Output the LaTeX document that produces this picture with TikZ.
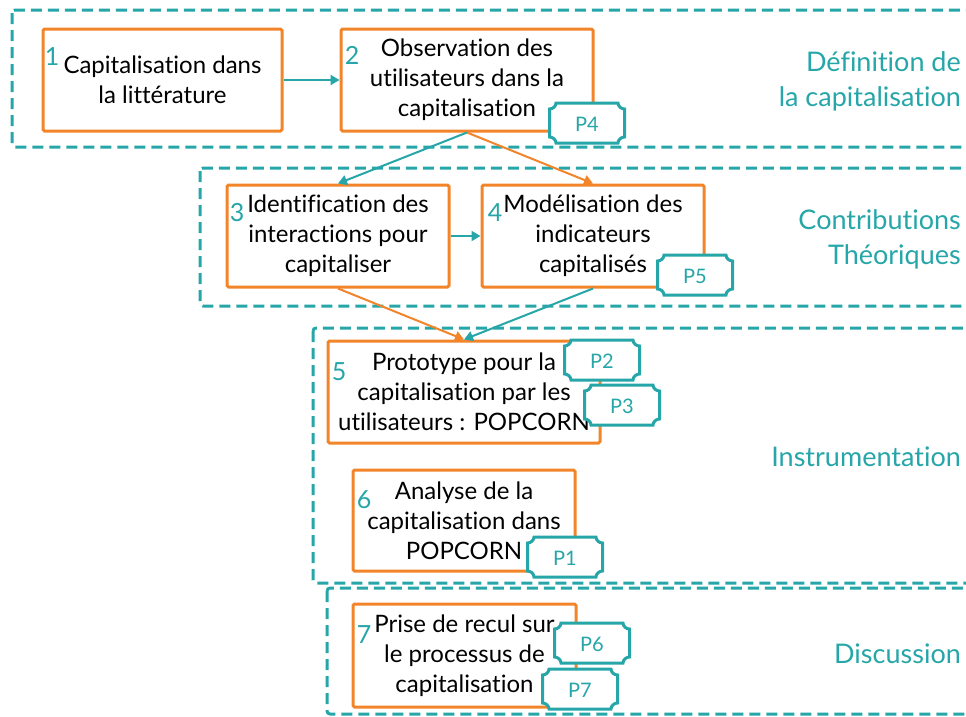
\documentclass[tikz,border=0pt]{standalone}
\usepackage{fontspec}
\setmainfont{Lato}[Ligatures={NoCommon}]
\usetikzlibrary{arrows.meta}
\definecolor{tealc}{RGB}{38,166,168}
\definecolor{orng}{RGB}{242,132,42}
\begin{document}
\begin{tikzpicture}[x=1pt,y=-1pt,
  obox/.style={draw=orng, line width=3pt, rounded corners=1.5pt, fill=white, align=center,
    font=\fontsize{24}{30}\selectfont, inner sep=0pt},
  dbox/.style={draw=tealc, line width=3pt, dash pattern=on 11pt off 6pt, rounded corners=3pt},
  num/.style={text=tealc, font=\fontsize{25}{26}\selectfont, inner sep=0pt},
  side/.style={text=tealc, font=\fontsize{27}{35}\selectfont, align=right, anchor=east, inner sep=0pt},
  tagt/.style={text=tealc, font=\fontsize{20}{22}\selectfont, inner sep=0pt},
  tarr/.style={draw=tealc, line width=2pt, -{Triangle[length=9pt,width=10pt]}},
  oarr/.style={draw=orng, line width=2pt, -{Triangle[length=9pt,width=10pt]}},
  plaque/.pic={
    \draw[draw=tealc, line width=3pt, fill=white]
      (-31,-20) -- (31,-20) .. controls (31,-16.7) and (34.3,-14) .. (37.5,-14)
      -- (37.5,14) .. controls (34.3,14) and (31,16.7) .. (31,20)
      -- (-31,20) .. controls (-31,16.7) and (-34.3,14) .. (-37.5,14)
      -- (-37.5,-14) .. controls (-34.3,-14) and (-31,-16.7) .. (-31,-20) -- cycle;
  }
]
\useasboundingbox (0,0) rectangle (966,716);
\clip (0,0) rectangle (966,716);

% dashed section frames
\draw[dbox] (12,10) rectangle (990,147);
\draw[dbox] (200,168) rectangle (990,306);
\draw[dbox] (313,328) rectangle (990,583);
\draw[dbox] (327,588) rectangle (990,714);

% side labels
\node[side] (s1) at (961,81) {Définition de\\la capitalisation};
\node[side] (s2) at (961,239) {Contributions\\Théoriques};
\node[side] (s3) at (961,457) {Instrumentation};
\node[side] (s4) at (961,654) {Discussion};

% boxes
\node[obox, minimum width=239pt, minimum height=102pt] (b1) at (162.5,80) {Capitalisation dans\\la littérature};
\node[obox, minimum width=252pt, minimum height=102pt] (b2) at (467,80) {Observation des\\utilisateurs dans la\\capitalisation};
\node[obox, minimum width=222pt, minimum height=102pt] (b3) at (338,236) {Identification des\\interactions pour\\capitaliser};
\node[obox, minimum width=222pt, minimum height=102pt] (b4) at (593,236) {Modélisation des\\indicateurs\\capitalisés};
\node[obox, minimum width=272pt, minimum height=102pt] (b5) at (464,392) {Prototype pour la\\capitalisation par les\\utilisateurs : POPCORN};
\node[obox, minimum width=222pt, minimum height=101pt] (b6) at (464,520.5) {Analyse de la\\capitalisation dans\\POPCORN};
\node[obox, minimum width=223pt, minimum height=103pt] (b7) at (464.5,655.5) {Prise de recul sur\\le processus de\\capitalisation};

% arrows
\draw[tarr] (b1.east) -- (b2.west);
\draw[tarr] (b2.south) -- (b3.north);
\draw[oarr] (b2.south) -- (b4.north);
\draw[tarr] (b3.east) -- (b4.west);
\draw[oarr] (b3.south) -- (b5.north);
\draw[tarr] (b4.south) -- (b5.north);

% step numbers
\node[num] (n1) at (52,57) {1};
\node[num] (n2) at (352,55) {2};
\node[num] (n3) at (237,213) {3};
\node[num] (n4) at (495,213) {4};
\node[num] (n5) at (339,372) {5};
\node[num] (n6) at (364,500) {6};
\node[num] (n7) at (364,635) {7};

% publication tags
\pic at (587,123) {plaque}; \node[tagt] (p4) at (587,124) {P4};
\pic at (695,275) {plaque}; \node[tagt] (p5) at (695,276) {P5};
\pic at (602,360) {plaque}; \node[tagt] (p2) at (602,361) {P2};
\pic at (622,405) {plaque}; \node[tagt] (p3) at (622,406) {P3};
\pic at (565,557) {plaque}; \node[tagt] (p1) at (565,558) {P1};
\pic at (592,643) {plaque}; \node[tagt] (p6) at (592,644) {P6};
\pic at (580,689) {plaque}; \node[tagt] (p7) at (580,690) {P7};
\end{tikzpicture}
\end{document}
